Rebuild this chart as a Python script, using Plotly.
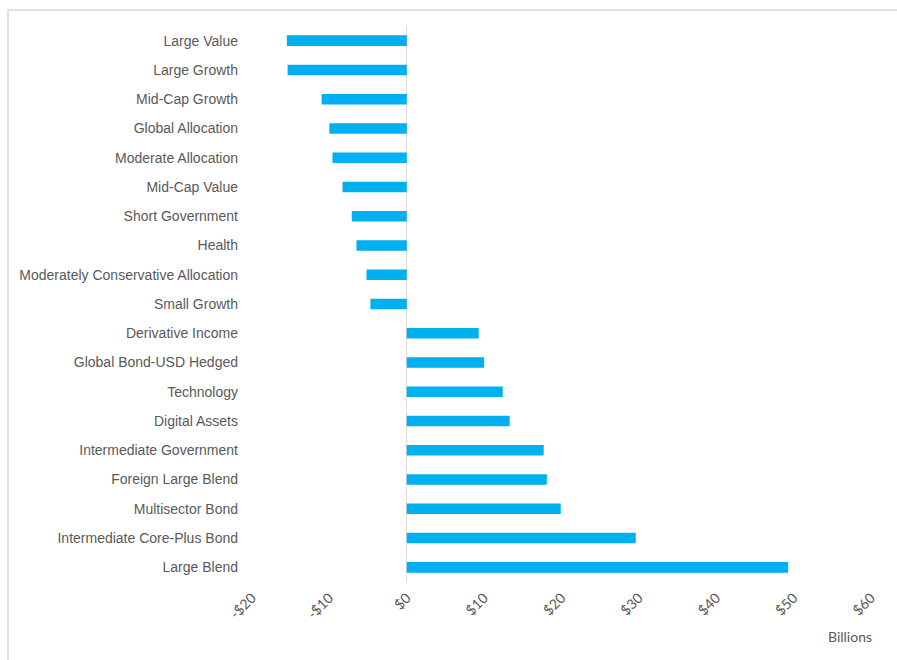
import plotly.graph_objects as go

categories = [
    "Large Value", "Large Growth", "Mid-Cap Growth", "Global Allocation",
    "Moderate Allocation", "Mid-Cap Value", "Short Government", "Health",
    "Moderately Conservative Allocation", "Small Growth", "Derivative Income",
    "Global Bond-USD Hedged", "Technology", "Digital Assets",
    "Intermediate Government", "Foreign Large Blend", "Multisector Bond",
    "Intermediate Core-Plus Bond", "Large Blend",
]
flows = [
    -15.5, -15.4, -11.0, -10.0, -9.6, -8.3, -7.1, -6.5, -5.2, -4.7,
    9.3, 10.0, 12.4, 13.3, 17.7, 18.1, 19.9, 29.6, 49.3,
]
tick_vals = [-20, -10, 0, 10, 20, 30, 40, 50, 60]
tick_text = ["-$20", "-$10", "$0", "$10", "$20", "$30", "$40", "$50", "$60"]

W, H = 897, 660
L, R, T, B = 252, 26, 26, 78
pw, ph = W - L - R, H - T - B

fig = go.Figure(go.Bar(
    x=flows, y=categories, orientation="h",
    marker=dict(color="#00B0F0", line=dict(width=0)),
    width=0.36,
))

fig.update_layout(
    width=W, height=H,
    margin=dict(l=L, r=R, t=T, b=B),
    paper_bgcolor="white", plot_bgcolor="white",
    showlegend=False,
    xaxis=dict(
        range=[-20, 60], tickvals=tick_vals, ticktext=tick_text,
        tickangle=-45, showgrid=False, zeroline=True,
        zerolinecolor="#D9D9D9", zerolinewidth=1, showline=False,
        tickfont=dict(family="Lato", size=14, color="#595959"),
        ticklabelstandoff=4,
    ),
    yaxis=dict(
        autorange="reversed", showgrid=False, showline=False,
        tickfont=dict(family="Liberation Sans", size=14, color="#595959"),
        ticklabelstandoff=13,
    ),
    shapes=[dict(
        type="rect", xref="paper", yref="paper",
        x0=(8 - L) / pw, x1=(W + 5 - L) / pw,
        y0=(H - B - (H + 5)) / ph, y1=(H - B - 10) / ph,
        line=dict(color="#D9D9D9", width=1.5), fillcolor="rgba(0,0,0,0)",
        layer="below",
    )],
    annotations=[dict(
        text="Billions", xref="paper", yref="paper",
        x=(850 - L) / pw, y=(H - B - 636) / ph,
        showarrow=False, xanchor="center", yanchor="middle",
        font=dict(family="Lato", size=14, color="#595959"),
    )],
)

fig.write_html("out.html")
